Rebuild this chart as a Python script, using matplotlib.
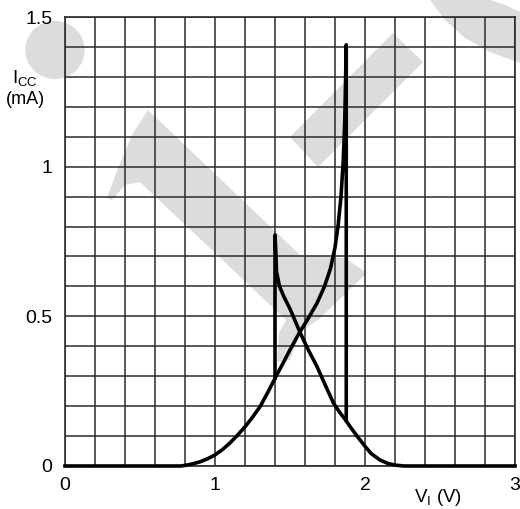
import numpy as np
import matplotlib
matplotlib.use("Agg")
import matplotlib.pyplot as plt
from matplotlib.patches import Polygon, Circle

plt.rcParams['font.family'] = ['Liberation Sans', 'DejaVu Sans']
plt.rcParams['mathtext.fontset'] = 'custom'
plt.rcParams['mathtext.rm'] = 'Liberation Sans'
plt.rcParams['mathtext.it'] = 'Liberation Sans'

# ---- data (V_I in volts, I_CC in mA) ----
# lower branch: rising curve, then jump down at the upper threshold
rise_v = [0.0, 0.77, 0.80, 0.85, 0.90, 0.95, 1.00, 1.05, 1.10, 1.15, 1.20,
          1.25, 1.30, 1.35, 1.40, 1.45, 1.50, 1.56, 1.62, 1.68, 1.73, 1.77,
          1.80, 1.82, 1.84, 1.855, 1.865, 1.875, 1.875]
rise_i = [0.0, 0.0, 0.002, 0.007, 0.014, 0.024, 0.037, 0.055, 0.077, 0.103,
          0.131, 0.163, 0.198, 0.244, 0.293, 0.340, 0.388, 0.443, 0.492,
          0.544, 0.60, 0.66, 0.73, 0.80, 0.90, 1.02, 1.15, 1.407, 0.154]
# upper branch: jump up at the lower threshold, then falling curve
fall_v = [1.40, 1.40, 1.405, 1.41, 1.43, 1.46, 1.50, 1.57, 1.62, 1.68, 1.74,
          1.79, 1.83, 1.87, 1.91, 1.95, 2.00, 2.04, 2.10, 2.15, 2.20, 2.26,
          3.0]
fall_i = [0.293, 0.772, 0.72, 0.65, 0.60, 0.565, 0.525, 0.443, 0.39, 0.332,
          0.265, 0.21, 0.18, 0.154, 0.125, 0.098, 0.066, 0.042, 0.020, 0.009,
          0.003, 0.0, 0.0]

x_ticks = [0, 1, 2, 3]
x_ticklabels = ['0', '1', '2', '3']
y_ticks = [0, 0.5, 1, 1.5]
y_ticklabels = ['0', '0.5', '1', '1.5']

W, H = 520, 509
fig = plt.figure(figsize=(W / 100, H / 100), dpi=100)


def fx(px):
    return px / W


def fy(py):
    return 1 - py / H


# ---- watermark (decorative, behind the chart) ----
wm = '#dcdcdc'
fig.patches.append(Circle((fx(55), fy(50)), 29 / W, transform=fig.transFigure,
                          color=wm, zorder=-5))
main_stroke = [(107, 198), (118, 168), (133, 133), (148, 110), (300, 255),
               (345, 258), (367, 273), (318, 320), (300, 332), (290, 360),
               (277, 362), (279, 333), (286, 320), (140, 182), (125, 185),
               (112, 200)]
upper_band = [(290, 137), (318, 167), (423, 62), (393, 33)]
arc_band = [(430, 0), (445, 20), (465, 38), (490, 52), (520, 63), (520, 12),
            (505, 5), (490, 0)]
for poly in (main_stroke, upper_band, arc_band):
    fig.patches.append(Polygon([(fx(a), fy(b)) for a, b in poly], closed=True,
                               transform=fig.transFigure, color=wm,
                               zorder=-5, lw=0))

ax = fig.add_axes([fx(65), fy(466), fx(515) - fx(65), fy(17) - fy(466)])
ax.set_zorder(1)
ax.patch.set_alpha(0)

ax.set_xlim(0, 3)
ax.set_ylim(0, 1.5)
ax.set_xticks(np.arange(0, 3.001, 0.2), minor=True)
ax.set_yticks(np.arange(0, 1.501, 0.1), minor=True)
ax.set_xticks(x_ticks)
ax.set_xticklabels(x_ticklabels)
ax.set_yticks(y_ticks)
ax.set_yticklabels(y_ticklabels)
ax.tick_params(which='both', length=0)
ax.tick_params(axis='x', pad=8, labelsize=14)
ax.tick_params(axis='y', pad=9, labelsize=14)

gc = '#2b2b2b'
ax.grid(True, which='both', color=gc, lw=1.1)
for s in ax.spines.values():
    s.set_color(gc)
    s.set_linewidth(1.2)

ax.plot(rise_v, rise_i, color='black', lw=2.6, solid_joinstyle='round',
        clip_on=False, zorder=5)
ax.plot(fall_v, fall_i, color='black', lw=2.6, solid_joinstyle='round',
        clip_on=False, zorder=5)

fig.text(fx(12), fy(83), r'I$_{\mathrm{CC}}$', fontsize=13.5, ha='left',
         va='baseline')
fig.text(fx(25), fy(99), '(mA)', fontsize=13, ha='center', va='center')
fig.text(fx(438), fy(497), r'V$_{\mathrm{I}}$ (V)', fontsize=13.5,
         ha='center', va='center')

fig.savefig('out.png', dpi=100)
